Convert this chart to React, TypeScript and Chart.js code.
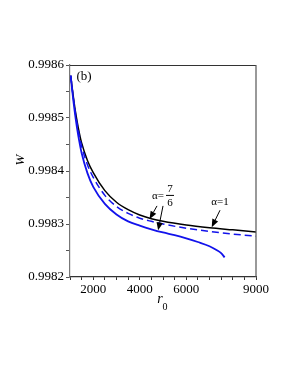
import React, { useEffect, useRef } from "react";
import { Chart, registerables } from "chart.js";
Chart.register(...registerables);

// r0 values and W values
const r0Alpha1 = [1030, 1100, 1200, 1300, 1400, 1500, 1750, 2000, 2500, 3000, 3500, 4000, 4500, 5000, 6000, 7000, 8000, 9000];
const wAlpha1 = [0.99858, 0.998555, 0.998522, 0.998495, 0.998472, 0.998453, 0.99842, 0.998397, 0.998363, 0.998341, 0.998327, 0.998317, 0.99831, 0.998305, 0.998298, 0.998293, 0.998289, 0.998285];

const r0Dashed = [1030, 1100, 1200, 1300, 1400, 1500, 1750, 2000, 2500, 3000, 3500, 4000, 4500, 5000, 6000, 7000, 8000, 9000];
const wDashed = [0.99858, 0.998553, 0.998519, 0.998491, 0.998467, 0.998447, 0.998412, 0.998388, 0.998354, 0.998333, 0.99832, 0.998311, 0.998305, 0.9983, 0.998292, 0.998286, 0.998281, 0.998277];

const r0Solid = [1030, 1100, 1200, 1300, 1400, 1500, 1750, 2000, 2500, 3000, 3500, 4000, 4500, 5000, 5500, 6000, 6500, 7000, 7300, 7500, 7650];
const wSolid = [0.99858, 0.99855, 0.998513, 0.998482, 0.998456, 0.998434, 0.998396, 0.99837, 0.998338, 0.998318, 0.998305, 0.998297, 0.99829, 0.998284, 0.998279, 0.998273, 0.998266, 0.998258, 0.998251, 0.998245, 0.998237];

const xLabelTicks = [2000, 4000, 6000, 9000];
const yMajorTicks = [0.9982, 0.9983, 0.9984, 0.9985, 0.9986];

const SERIF = '"Liberation Serif", "Times New Roman", serif';

const toPts = (xs: number[], ys: number[]) => xs.map((x, i) => ({ x, y: ys[i] }));

function arrow(ctx: CanvasRenderingContext2D, x1: number, y1: number, x2: number, y2: number) {
  const ang = Math.atan2(y2 - y1, x2 - x1);
  const L = 8, W = 3.2;
  const bx = x2 - L * Math.cos(ang), by = y2 - L * Math.sin(ang);
  ctx.beginPath();
  ctx.moveTo(x1, y1);
  ctx.lineTo(bx, by);
  ctx.stroke();
  ctx.beginPath();
  ctx.moveTo(x2, y2);
  ctx.lineTo(bx + W * Math.sin(ang), by - W * Math.cos(ang));
  ctx.lineTo(bx - W * Math.sin(ang), by + W * Math.cos(ang));
  ctx.closePath();
  ctx.fill();
}

const decorPlugin = {
  id: "decor",
  afterDraw(chart: any) {
    const ctx: CanvasRenderingContext2D = chart.ctx;
    const { left, right, top, bottom } = chart.chartArea;
    const xs = chart.scales.x, ys = chart.scales.y;
    const X = (v: number) => xs.getPixelForValue(v);
    const Y = (v: number) => ys.getPixelForValue(v);
    ctx.save();
    // frame top + right
    ctx.strokeStyle = "#333";
    ctx.lineWidth = 1.2;
    ctx.beginPath();
    ctx.moveTo(left, top + 0.5);
    ctx.lineTo(right, top + 0.5);
    ctx.stroke();
    ctx.strokeStyle = "#555";
    ctx.beginPath();
    ctx.moveTo(right, top);
    ctx.lineTo(right, bottom);
    ctx.stroke();

    ctx.fillStyle = "#000";
    ctx.strokeStyle = "#000";
    ctx.textAlign = "center";
    ctx.textBaseline = "middle";
    // panel label
    ctx.font = `13px ${SERIF}`;
    ctx.fillText("(b)", left + 14, top + 12);

    // axis titles
    ctx.save();
    ctx.translate(21, (top + bottom) / 2 - 11);
    ctx.rotate(-Math.PI / 2);
    ctx.font = `italic 13px ${SERIF}`;
    ctx.fillText("W", 0, 0);
    ctx.restore();
    const cx = (left + right) / 2;
    ctx.font = `italic 14px ${SERIF}`;
    ctx.fillText("r", cx - 3, bottom + 22);
    ctx.font = `10px ${SERIF}`;
    ctx.fillText("0", cx + 2, bottom + 30);

    // alpha = 1 label and arrow
    ctx.lineWidth = 1;
    ctx.font = `11px ${SERIF}`;
    ctx.fillText("α=1", X(7452), Y(0.998342));
    arrow(ctx, X(7452), Y(0.998326), X(7095), Y(0.998294));

    // alpha = 7/6 label and arrows
    const ax = X(4957), ay = Y(0.998353);
    ctx.fillText("α=", ax - 4, ay);
    ctx.fillText("7", ax + 8, ay - 7);
    ctx.fillText("6", ax + 8, ay + 7);
    ctx.beginPath();
    ctx.moveTo(ax + 4, ay - 0.5);
    ctx.lineTo(ax + 12, ay - 0.5);
    ctx.stroke();
    arrow(ctx, ax - 5, ay + 10, X(4420), Y(0.998309));
    arrow(ctx, ax + 1, ay + 10, X(4790), Y(0.998288));
    ctx.restore();
  },
};

export default function App() {
  const ref = useRef<HTMLCanvasElement | null>(null);
  useEffect(() => {
    if (!ref.current) return;
    const blue = "rgb(18,18,235)";
    const common = { pointRadius: 0, cubicInterpolationMode: "monotone" as const, fill: false };
    const chart = new Chart(ref.current, {
      type: "line",
      data: {
        datasets: [
          { label: "solid", data: toPts(r0Solid, wSolid), borderColor: blue, borderWidth: 1.8, ...common },
          { label: "dashed", data: toPts(r0Dashed, wDashed), borderColor: blue, borderWidth: 1.5, borderDash: [7, 4], ...common },
          { label: "alpha=1", data: toPts(r0Alpha1, wAlpha1), borderColor: "#000", borderWidth: 1.5, ...common },
        ],
      },
      options: {
        animation: false,
        responsive: false,
        maintainAspectRatio: false,
        layout: { padding: { top: 65, right: 33, left: 0, bottom: 0 } },
        plugins: { legend: { display: false }, tooltip: { enabled: false } },
        scales: {
          x: {
            type: "linear",
            min: 1000,
            max: 9000,
            afterFit: (s: any) => { s.height = 97; },
            border: { display: true, color: "#333", width: 1.2 },
            grid: { drawOnChartArea: false, drawTicks: true, tickLength: 3, color: "#333" },
            ticks: {
              stepSize: 500,
              autoSkip: false,
              maxRotation: 0,
              padding: 2,
              color: "#000",
              font: { family: SERIF, size: 13 },
              callback: (v: any) => {
                const n = Math.round(Number(v));
                return xLabelTicks.includes(n) ? String(n) : "";
              },
            },
          },
          y: {
            type: "linear",
            min: 0.9982,
            max: 0.9986,
            afterFit: (s: any) => { s.width = 70; },
            border: { display: true, color: "#777", width: 1.2 },
            grid: { drawOnChartArea: false, drawTicks: true, tickLength: 4, color: "#555" },
            ticks: {
              stepSize: 0.00005,
              autoSkip: false,
              padding: 2,
              color: "#000",
              font: { family: SERIF, size: 13 },
              callback: (v: any) => {
                const n = Number(v);
                const hit = yMajorTicks.find((t) => Math.abs(t - n) < 1e-8);
                return hit !== undefined ? hit.toFixed(4) : "";
              },
            },
          },
        },
      },
      plugins: [decorPlugin],
    });
    return () => chart.destroy();
  }, []);
  return (
    <div style={{ position: "absolute", left: 0, top: 0, width: 289, height: 374, background: "#fff" }}>
      <canvas ref={ref} width={289} height={374} style={{ width: 289, height: 374 }} />
    </div>
  );
}
